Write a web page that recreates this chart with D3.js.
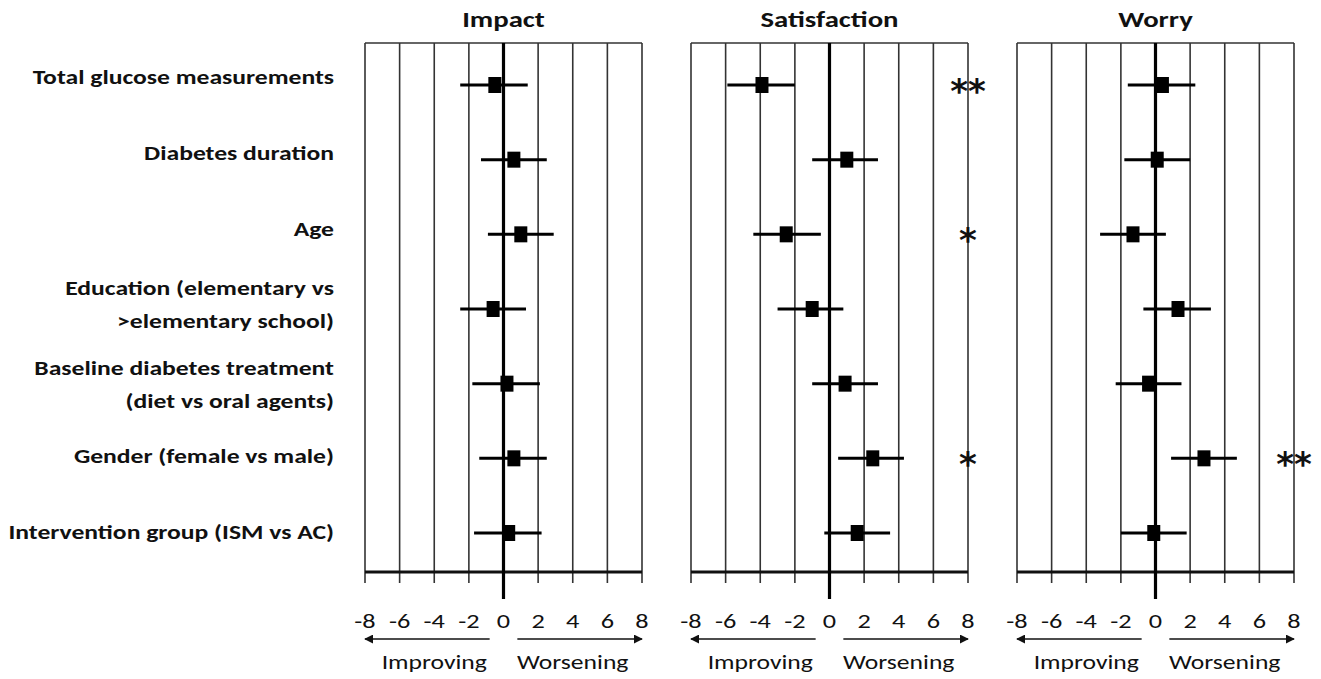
<!DOCTYPE html>
<html lang="en">
<head>
    <meta charset="UTF-8">
    <title>Forest plot: Impact, Satisfaction, Worry</title>
    <script src="https://d3js.org/d3.v7.min.js"></script>
    <style>
        body { margin: 0; background: #fff; }
        text { font-family: Carlito, Lato, "Open Sans", sans-serif; fill: #111; }
    </style>
</head>
<body>
    <div id="chart"></div>

    <script>
        // Row labels (top to bottom), second line where the label wraps
        const categories = [
            ["Total glucose measurements"],
            ["Diabetes duration"],
            ["Age"],
            ["Education (elementary vs", ">elementary school)"],
            ["Baseline diabetes treatment", "(diet vs oral agents)"],
            ["Gender (female vs male)"],
            ["Intervention group (ISM vs AC)"]
        ];

        const panels = ["Impact", "Satisfaction", "Worry"];
        const ticks = [-8, -6, -4, -2, 0, 2, 4, 6, 8];

        // estimate, lower CI, upper CI per row
        const impactEst   = [-0.5, 0.6, 1.0, -0.6, 0.2, 0.6, 0.3];
        const impactLow   = [-2.5, -1.3, -0.9, -2.5, -1.8, -1.4, -1.7];
        const impactHigh  = [1.4, 2.5, 2.9, 1.3, 2.1, 2.5, 2.2];

        const satisEst    = [-3.9, 1.0, -2.5, -1.0, 0.9, 2.5, 1.6];
        const satisLow    = [-5.9, -1.0, -4.4, -3.0, -1.0, 0.5, -0.3];
        const satisHigh   = [-2.0, 2.8, -0.5, 0.8, 2.8, 4.3, 3.5];

        const worryEst    = [0.4, 0.1, -1.3, 1.3, -0.4, 2.8, -0.1];
        const worryLow    = [-1.6, -1.8, -3.2, -0.7, -2.3, 0.9, -2.0];
        const worryHigh   = [2.3, 2.0, 0.6, 3.2, 1.5, 4.7, 1.8];

        // significance stars per row
        const impactSig = ["", "", "", "", "", "", ""];
        const satisSig  = ["**", "", "*", "", "", "*", ""];
        const worrySig  = ["", "", "", "", "", "**", ""];

        const series = [
            { est: impactEst, low: impactLow, high: impactHigh, sig: impactSig },
            { est: satisEst, low: satisLow, high: satisHigh, sig: satisSig },
            { est: worryEst, low: worryLow, high: worryHigh, sig: worrySig }
        ];

        const W = 1321, H = 679;
        const panelLeft = 365, panelW = 277, gap = 49;
        const topY = 43, axisY = 572;
        const sx = 1.25; // the figure is a bit wider than tall, text stretched to match

        const svg = d3.select("#chart").append("svg")
            .attr("width", W)
            .attr("height", H);

        const at = (x, y) => `translate(${x},${y}) scale(${sx},1)`;

        const rowIdx = d3.range(categories.length);

        // marker rows and label rows
        const y = d3.scalePoint().domain(rowIdx).range([85, 533]);
        const yLabel = d3.scalePoint().domain(rowIdx).range([77, 532]);

        // Row labels
        const labels = svg.append("g")
            .attr("font-weight", "bold")
            .attr("font-size", 20.5)
            .attr("text-anchor", "end");

        categories.forEach((lines, i) => {
            const cy = lines.length === 1 ? yLabel(i) : (i === 3 ? 304 : 384);
            lines.forEach((t, k) => {
                labels.append("text")
                    .attr("transform", at(334, cy + (k - (lines.length - 1) / 2) * 33))
                    .attr("dy", "0.35em")
                    .text(t);
            });
        });

        // Arrow marker
        const defs = svg.append("defs");
        defs.append("marker")
            .attr("id", "arrow")
            .attr("viewBox", "0 0 10 10")
            .attr("refX", 9)
            .attr("refY", 5)
            .attr("markerWidth", 9)
            .attr("markerHeight", 9)
            .attr("markerUnits", "userSpaceOnUse")
            .attr("orient", "auto")
            .append("path")
            .attr("d", "M0,0 L10,5 L0,10 Z")
            .attr("fill", "#111");

        panels.forEach((name, p) => {
            const x0 = panelLeft + p * (panelW + gap);
            const x = d3.scaleLinear().domain([-8, 8]).range([x0, x0 + panelW]);
            const s = series[p];
            const g = svg.append("g");

            // title
            g.append("text")
                .attr("transform", at(x(0), 27))
                .attr("text-anchor", "middle")
                .attr("font-weight", "bold")
                .attr("font-size", 23)
                .text(name);

            // top border
            g.append("line")
                .attr("x1", x(-8)).attr("x2", x(8))
                .attr("y1", topY).attr("y2", topY)
                .attr("stroke", "#333").attr("stroke-width", 1.6);

            // vertical grid lines (extend below axis as ticks)
            g.selectAll(".grid")
                .data(ticks.filter(t => t !== 0))
                .join("line")
                .attr("class", "grid")
                .attr("x1", d => x(d)).attr("x2", d => x(d))
                .attr("y1", topY).attr("y2", 583)
                .attr("stroke", "#333").attr("stroke-width", 1.6);

            // bottom axis line
            g.append("line")
                .attr("x1", x(-8)).attr("x2", x(8))
                .attr("y1", axisY).attr("y2", axisY)
                .attr("stroke", "#111").attr("stroke-width", 3);

            // zero line
            g.append("line")
                .attr("x1", x(0)).attr("x2", x(0))
                .attr("y1", topY).attr("y2", 599)
                .attr("stroke", "#000").attr("stroke-width", 3.2);

            // tick labels
            g.selectAll(".tick")
                .data(ticks)
                .join("text")
                .attr("class", "tick")
                .attr("transform", d => at(x(d), 628))
                .attr("text-anchor", "middle")
                .attr("font-size", 21)
                .text(d => d);

            // direction arrows
            g.append("line")
                .attr("x1", x(-0.8)).attr("x2", x(-8))
                .attr("y1", 639).attr("y2", 639)
                .attr("stroke", "#111").attr("stroke-width", 1.5)
                .attr("marker-end", "url(#arrow)");
            g.append("line")
                .attr("x1", x(0.8)).attr("x2", x(8))
                .attr("y1", 639).attr("y2", 639)
                .attr("stroke", "#111").attr("stroke-width", 1.5)
                .attr("marker-end", "url(#arrow)");

            g.append("text")
                .attr("transform", at(x(-4), 669))
                .attr("text-anchor", "middle")
                .attr("font-size", 20.5)
                .text("Improving");
            g.append("text")
                .attr("transform", at(x(4), 669))
                .attr("text-anchor", "middle")
                .attr("font-size", 20.5)
                .text("Worsening");

            // CI lines
            g.selectAll(".ci")
                .data(rowIdx)
                .join("line")
                .attr("class", "ci")
                .attr("x1", i => x(s.low[i])).attr("x2", i => x(s.high[i]))
                .attr("y1", i => y(i)).attr("y2", i => y(i))
                .attr("stroke", "#000").attr("stroke-width", 3);

            // estimate squares
            g.selectAll(".est")
                .data(rowIdx)
                .join("rect")
                .attr("class", "est")
                .attr("x", i => x(s.est[i]) - 6.5)
                .attr("y", i => y(i) - 8)
                .attr("width", 13)
                .attr("height", 16)
                .attr("fill", "#000");

            // significance stars
            g.selectAll(".sig")
                .data(rowIdx.filter(i => s.sig[i]))
                .join("text")
                .attr("class", "sig")
                .attr("x", x(8))
                .attr("y", i => y(i) + 18)
                .attr("text-anchor", "middle")
                .style("font-family", "'DejaVu Sans', sans-serif")
                .attr("font-weight", "bold")
                .attr("font-size", 34)
                .text(i => s.sig[i]);
        });
    </script>
</body>
</html>
